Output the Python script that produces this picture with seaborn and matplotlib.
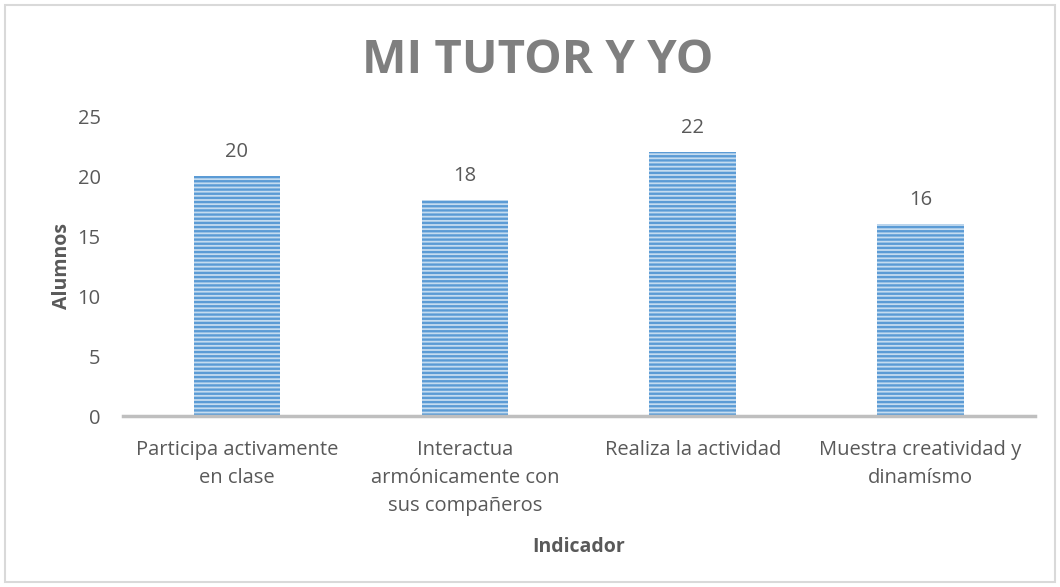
import matplotlib
matplotlib.use("Agg")
import matplotlib.pyplot as plt
import seaborn as sns
import pandas as pd
from matplotlib.patches import Rectangle

categories = ["Participa activamente\nen clase",
              "Interactua\narmónicamente con\nsus compañeros",
              "Realiza la actividad",
              "Muestra creatividad y\ndinamísmo"]
values = [20, 18, 22, 16]
yticks = [0, 5, 10, 15, 20, 25]

sns.set_theme(style="white")
plt.rcParams['font.family'] = ['Open Sans', 'DejaVu Sans']
plt.rcParams['hatch.linewidth'] = 1.7

gray = "#595959"
df = pd.DataFrame({"Indicador": categories, "Alumnos": values})

fig = plt.figure(figsize=(10.6, 5.87), dpi=100)
ax = fig.add_axes([0.116, 0.291, 0.86, 0.511])
sns.barplot(data=df, x="Indicador", y="Alumnos", ax=ax, color="#C5DCF0",
            width=0.38, saturation=1)
for p in ax.patches:
    p.set_hatch("----")
    p.set_edgecolor("#5B9BD5")
    p.set_linewidth(0)
for c in ax.containers:
    ax.bar_label(c, labels=[str(v) for v in values], padding=10, fontsize=14.5, color=gray)

ax.set_ylim(0, 25)
ax.set_yticks(yticks)
ax.set_xlim(-0.5, 3.5)
for s in ["top", "right", "left"]:
    ax.spines[s].set_visible(False)
ax.spines["bottom"].set_color("#BFBFBF")
ax.spines["bottom"].set_linewidth(2.5)
ax.tick_params(axis="both", length=0, labelsize=14.5, colors=gray)
ax.tick_params(axis="x", pad=17)
ax.tick_params(axis="y", pad=16)
for t in ax.get_xticklabels():
    t.set_linespacing(1.55)
ax.set_ylabel("Alumnos", fontsize=14, fontweight="bold", color=gray, labelpad=4)
ax.set_xlabel("Indicador", fontsize=14, fontweight="bold", color=gray, labelpad=15)
ax.grid(False)

fig.text(0.507, 0.897, "MI TUTOR Y YO", ha="center", va="center", fontsize=34,
         fontweight="bold", color="#7F7F7F")
fig.patches.append(Rectangle((0.005, 0.008), 0.99, 0.984, transform=fig.transFigure,
                             fill=False, edgecolor="#D9D9D9", linewidth=1.5))
fig.savefig("out.png", dpi=100)
